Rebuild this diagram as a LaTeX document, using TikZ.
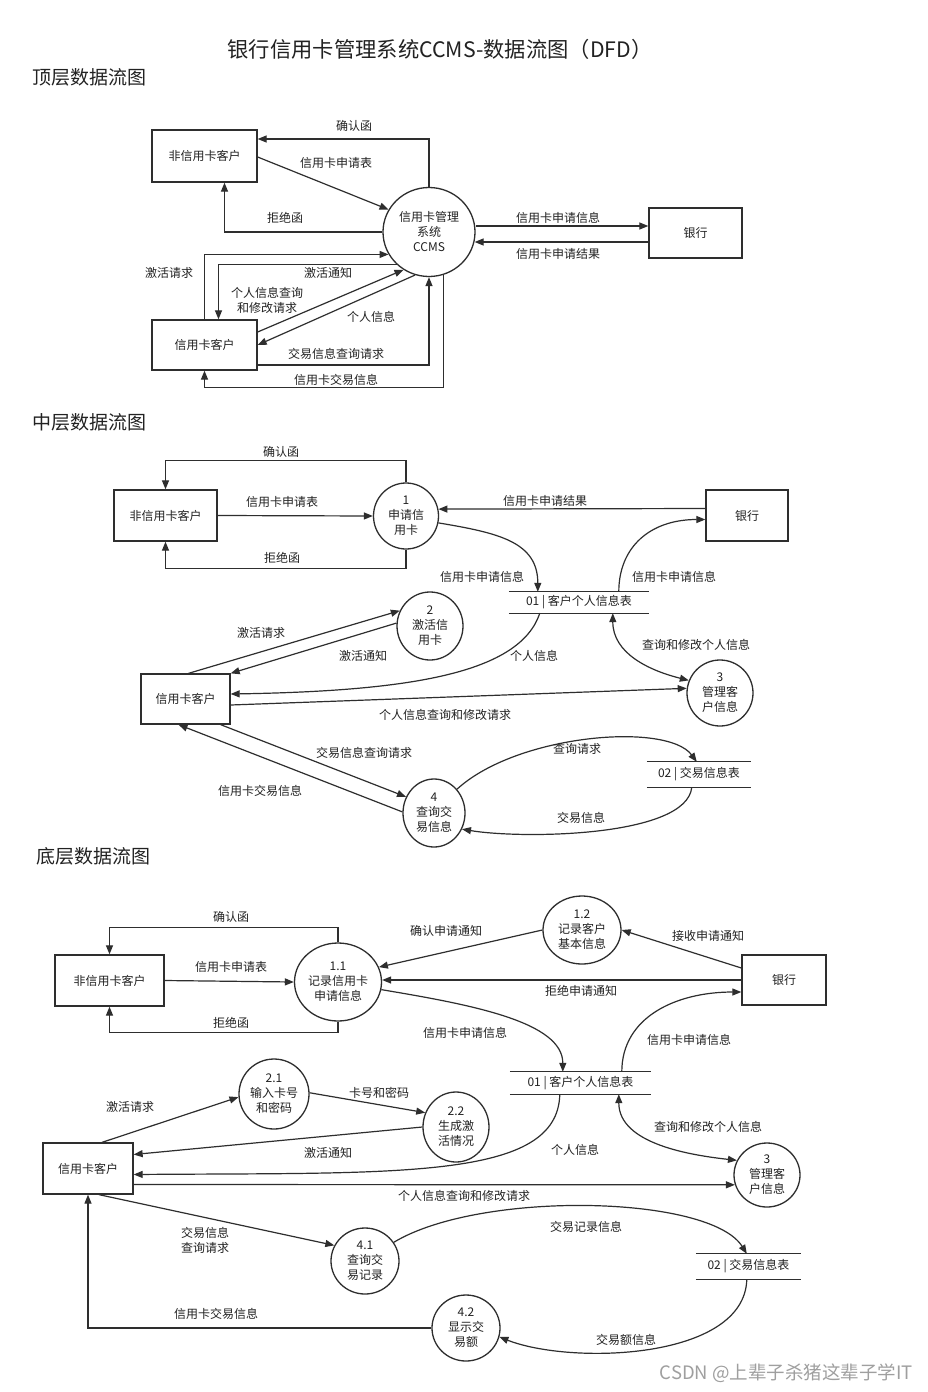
\documentclass[tikz,border=0pt]{standalone}
\usepackage{fontspec}
\setmainfont{Noto Sans CJK SC}
\usetikzlibrary{arrows.meta,shapes.geometric,calc}
\definecolor{ln}{HTML}{2E2E2E}
\definecolor{tx}{HTML}{222222}
\begin{document}
\begin{tikzpicture}[x=1pt,y=-1pt,
  every node/.style={font=\fontsize{12}{15}\selectfont, text=tx, inner sep=0pt},
  box/.style={draw=ln, line width=1.3pt, rectangle},
  proc/.style={draw=ln, line width=1.3pt, ellipse, align=center},
  store/.style={rectangle},
  sline/.style={draw=ln, line width=1.3pt},
  flow/.style={draw=ln, line width=1.2pt, -{Triangle[length=9pt,width=7pt]}},
  bflow/.style={draw=ln, line width=1.2pt, {Triangle[length=9pt,width=7pt]}-{Triangle[length=9pt,width=7pt]}},
  lbl/.style={align=center},
  head/.style={anchor=west, font=\fontsize{19}{23}\selectfont}
]
\fill[white] (0,0) rectangle (928,1392);
\useasboundingbox (0,0) rectangle (928,1392);

\node[font=\fontsize{21.3}{25}\selectfont] (title) at (440,49) {银行信用卡管理系统CCMS-数据流图（DFD）};
\node[head] (h1) at (32,77) {顶层数据流图};
\node[head] (h2) at (32,422) {中层数据流图};
\node[head] (h3) at (36,856) {底层数据流图};

%% ---------------- top level ----------------
\node[box,minimum width=105pt,minimum height=52pt] (t_non) at (204.5,156) {非信用卡客户};
\node[proc,minimum width=92pt,minimum height=89pt] (t_sys) at (429,232) {信用卡管理\\系统\\CCMS};
\node[box,minimum width=93pt,minimum height=50pt] (t_bank) at (695.5,233) {银行};
\node[box,minimum width=105pt,minimum height=50pt] (t_cc) at (204.5,345) {信用卡客户};

\draw[flow] (t_sys.north) |- ($(t_non.east)+(0,-17)$);
\draw[flow] ($(t_non.east)+(0,1)$) -- (t_sys.151);
\draw[flow] (t_sys.west) -| ($(t_non.south)+(20,0)$);
\draw[flow] ($(t_sys.east)+(0,-6)$) -- ($(t_bank.west)+(0,-7)$);
\draw[flow] ($(t_bank.west)+(0,9)$) -- ($(t_sys.east)+(-1,10)$);
\draw[flow] (t_cc.north) |- (t_sys.209);
\draw[flow] (t_sys.225) -| ($(t_cc.north)+(14,0)$);
\draw[flow] ($(t_cc.east)+(0,-13)$) -- (t_sys.236);
\draw[flow] (t_sys.252) -- (t_cc.east);
\draw[flow] ($(t_cc.east)+(0,20)$) -| (t_sys.south);
\draw[flow] (t_sys.289) |- ($(t_cc.south)+(0,17)$) -- (t_cc.south);

\node[lbl] (tl1) at (354,126) {确认函};
\node[lbl] (tl2) at (336,163) {信用卡申请表};
\node[lbl] (tl3) at (285,218) {拒绝函};
\node[lbl] (tl4) at (558,218) {信用卡申请信息};
\node[lbl] (tl5) at (558,254) {信用卡申请结果};
\node[lbl] (tl6) at (169,273) {激活请求};
\node[lbl] (tl7) at (328,273) {激活通知};
\node[lbl] (tl8) at (267,300) {个人信息查询\\和修改请求};
\node[lbl] (tl9) at (371,317) {个人信息};
\node[lbl] (tl10) at (336,354) {交易信息查询请求};
\node[lbl] (tl11) at (336,380) {信用卡交易信息};

%% ---------------- middle level ----------------
\node[box,minimum width=103pt,minimum height=51pt] (m_non) at (165.5,515.5) {非信用卡客户};
\node[proc,minimum width=65pt,minimum height=66pt] (m_p1) at (406,516) {1\\申请信\\用卡};
\node[box,minimum width=82pt,minimum height=51pt] (m_bank) at (747,515.5) {银行};
\node[store,minimum width=140pt,minimum height=21pt] (m_s01) at (579,602.5) {01 | 客户个人信息表};
\node[proc,minimum width=66pt,minimum height=68pt] (m_p2) at (430,626) {2\\激活信\\用卡};
\node[box,minimum width=89pt,minimum height=50pt] (m_cc) at (185.5,699) {信用卡客户};
\node[proc,minimum width=66pt,minimum height=66pt] (m_p3) at (720,693) {3\\管理客\\户信息};
\node[proc,minimum width=62pt,minimum height=68pt] (m_p4) at (434,813) {4\\查询交\\易信息};
\node[store,minimum width=104pt,minimum height=25pt] (m_s02) at (699,774.5) {02 | 交易信息表};
\draw[sline] (m_s01.north west) -- (m_s01.north east);
\draw[sline] (m_s01.south west) -- (m_s01.south east);
\draw[sline] (m_s02.north west) -- (m_s02.north east);
\draw[sline] (m_s02.south west) -- (m_s02.south east);

\draw[flow] (m_p1.north) |- ($(m_non.north)+(0,-29)$) -- (m_non.north);
\draw[flow] (m_non.east) -- (m_p1.west);
\draw[flow] (m_p1.south) |- ($(m_non.south)+(0,27)$) -- (m_non.south);
\draw[flow] ($(m_bank.west)+(0,-7)$) -- (m_p1.12);
\draw[flow] (m_p1.-12) .. controls +(60,10) and +(0,-50) .. ($(m_s01.north west)+(29,0)$);
\draw[flow] ($(m_s01.north west)+(110,0)$) .. controls +(0,-45) and +(-55,0) .. ($(m_bank.west)+(0,4)$);
\draw[flow] ($(m_cc.north)+(3,0)$) -- (m_p2.153);
\draw[flow] (m_p2.175) -- (m_cc.north east);
\draw[flow] ($(m_s01.south west)+(31,0)$) .. controls +(-20,60) and +(180,-3) .. ($(m_cc.east)+(0,-5)$);
\draw[bflow] ($(m_s01.south west)+(104,0)$) .. controls +(0,40) and +(-40,-10) .. (m_p3.158);
\draw[flow] ($(m_cc.east)+(0,6)$) -- (m_p3.172);
\draw[flow] ($(m_cc.south east)+(-10,0)$) -- (m_p4.150);
\draw[flow] (m_p4.178) -- ($(m_cc.south)+(-7,0)$);
\draw[flow] (m_p4.46) .. controls +(60,-55) and +(-30,-40) .. ($(m_s02.north west)+(50,0)$);
\draw[flow] ($(m_s02.south west)+(45,0)$) .. controls +(-5,50) and +(60,10) .. (m_p4.-30);

\node[lbl] (ml1) at (281,452) {确认函};
\node[lbl] (ml2) at (282,502) {信用卡申请表};
\node[lbl] (ml3) at (282,558) {拒绝函};
\node[lbl] (ml4) at (545,501) {信用卡申请结果};
\node[lbl] (ml5) at (482,577) {信用卡申请信息};
\node[lbl] (ml6) at (674,577) {信用卡申请信息};
\node[lbl] (ml7) at (261,633) {激活请求};
\node[lbl] (ml8) at (363,656) {激活通知};
\node[lbl] (ml9) at (534,656) {个人信息};
\node[lbl] (ml10) at (696,645) {查询和修改个人信息};
\node[lbl] (ml11) at (445,715) {个人信息查询和修改请求};
\node[lbl] (ml12) at (364,753) {交易信息查询请求};
\node[lbl] (ml13) at (260,791) {信用卡交易信息};
\node[lbl] (ml14) at (577,749) {查询请求};
\node[lbl] (ml15) at (581,818) {交易信息};

%% ---------------- bottom level ----------------
\node[box,minimum width=109pt,minimum height=51pt] (b_non) at (109.5,980.5) {非信用卡客户};
\node[proc,minimum width=87pt,minimum height=78pt] (b_p11) at (338,982) {1.1\\记录信用卡\\申请信息};
\node[proc,minimum width=78pt,minimum height=68pt] (b_p12) at (582,930) {1.2\\记录客户\\基本信息};
\node[box,minimum width=84pt,minimum height=50pt] (b_bank) at (784,980) {银行};
\node[store,minimum width=141pt,minimum height=22pt] (b_s01) at (580.5,1083) {01 | 客户个人信息表};
\node[proc,minimum width=70pt,minimum height=70pt] (b_p21) at (274,1094) {2.1\\输入卡号\\和密码};
\node[proc,minimum width=66pt,minimum height=70pt] (b_p22) at (456,1127) {2.2\\生成激\\活情况};
\node[box,minimum width=90pt,minimum height=51pt] (b_cc) at (88,1168.5) {信用卡客户};
\node[proc,minimum width=66pt,minimum height=64pt] (b_p3) at (767,1175) {3\\管理客\\户信息};
\node[proc,minimum width=68pt,minimum height=66pt] (b_p41) at (365,1261) {4.1\\查询交\\易记录};
\node[store,minimum width=105pt,minimum height=25pt] (b_s02) at (748.5,1266.5) {02 | 交易信息表};
\node[proc,minimum width=68pt,minimum height=66pt] (b_p42) at (466,1328) {4.2\\显示交\\易额};
\draw[sline] (b_s01.north west) -- (b_s01.north east);
\draw[sline] (b_s01.south west) -- (b_s01.south east);
\draw[sline] (b_s02.north west) -- (b_s02.north east);
\draw[sline] (b_s02.south west) -- (b_s02.south east);

\draw[flow] (b_p11.north) |- ($(b_non.north)+(0,-27)$) -- (b_non.north);
\draw[flow] (b_non.east) -- (b_p11.west);
\draw[flow] (b_p11.south) |- ($(b_non.south)+(0,26)$) -- (b_non.south);
\draw[flow] (b_p12.west) -- (b_p11.20);
\draw[flow] ($(b_bank.west)+(0,-12)$) -- (b_p12.east);
\draw[flow] (b_bank.west) -- (b_p11.east |- b_bank.west);
\draw[flow] (b_p11.-10) .. controls +(90,15) and +(0,-50) .. ($(b_s01.north west)+(53,0)$);
\draw[flow] ($(b_s01.north west)+(112,0)$) .. controls +(0,-55) and +(-65,0) .. ($(b_bank.west)+(0,12)$);
\draw[flow] ($(b_cc.north)+(14,0)$) -- (b_p21.185);
\draw[flow] (b_p21.2) -- (b_p22.155);
\draw[flow] (b_p22.west) -- ($(b_cc.east)+(0,-14)$);
\draw[flow] ($(b_s01.south west)+(50,0)$) .. controls +(-2,86) and +(267,-2) .. ($(b_cc.east)+(0,6)$);
\draw[bflow] ($(b_s01.south west)+(109,0)$) .. controls +(0,50) and +(-45,-5) .. (b_p3.154);
\draw[flow] ($(b_cc.east)+(0,16)$) -- (b_p3.197);
\draw[flow] ($(b_cc.south)+(11,0)$) -- (b_p41.153);
\draw[flow] (b_p41.33) .. controls +(86,-52) and +(-37,-59) .. ($(b_s02.north west)+(51,0)$);
\draw[flow] ($(b_s02.south west)+(51,0)$) .. controls +(-2,81) and +(71,28) .. (b_p42.-15);
\draw[flow] (b_p42.west) -| (b_cc.south);

\node[lbl] (bl1) at (231,917) {确认函};
\node[lbl] (bl2) at (231,967) {信用卡申请表};
\node[lbl] (bl3) at (231,1023) {拒绝函};
\node[lbl] (bl4) at (446,931) {确认申请通知};
\node[lbl] (bl5) at (708,936) {接收申请通知};
\node[lbl] (bl6) at (581,991) {拒绝申请通知};
\node[lbl] (bl7) at (465,1033) {信用卡申请信息};
\node[lbl] (bl8) at (689,1040) {信用卡申请信息};
\node[lbl] (bl9) at (130,1107) {激活请求};
\node[lbl] (bl10) at (379,1093) {卡号和密码};
\node[lbl] (bl11) at (328,1153) {激活通知};
\node[lbl] (bl12) at (575,1150) {个人信息};
\node[lbl] (bl13) at (708,1127) {查询和修改个人信息};
\node[lbl] (bl14) at (464,1196) {个人信息查询和修改请求};
\node[lbl] (bl15) at (205,1240) {交易信息\\查询请求};
\node[lbl] (bl16) at (586,1227) {交易记录信息};
\node[lbl] (bl17) at (626,1340) {交易额信息};
\node[lbl] (bl18) at (216,1314) {信用卡交易信息};

\node[anchor=east, text=gray!75, font=\fontsize{18.5}{20}\selectfont] (wm) at (913,1373) {CSDN @上辈子杀猪这辈子学IT};
\end{tikzpicture}
\end{document}
